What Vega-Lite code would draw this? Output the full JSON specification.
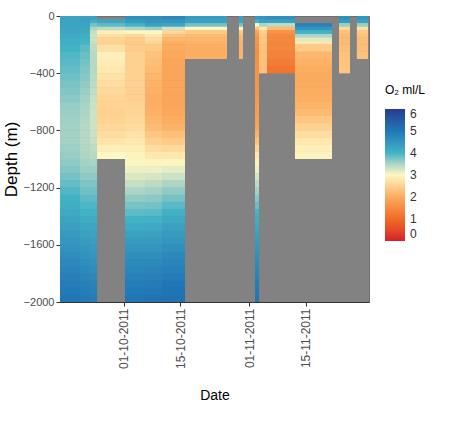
{
  "$schema": "https://vega.github.io/schema/vega-lite/v6.json",
  "width": 309,
  "height": 286,
  "padding": {"left": 2, "top": 10, "right": 5, "bottom": 5},
  "background": "white",
  "data": {
    "values": [
      {"t0": "2011-09-15T06:30:00Z", "t1": "2011-09-20T05:00:00Z",
       "top": [0,-25,-50,-75,-100,-125,-150,-175,-200,-250,-300,-350,-400,-450,-500,-550,-600,-650,-700,-750,-800,-850,-900,-950,-1000,-1050,-1100,-1150,-1200,-1250,-1300,-1350,-1400,-1450,-1500,-1550,-1600,-1650,-1700,-1750,-1800,-1850,-1900,-1950],
       "bot": [-25,-50,-75,-100,-125,-150,-175,-200,-250,-300,-350,-400,-450,-500,-550,-600,-650,-700,-750,-800,-850,-900,-950,-1000,-1050,-1100,-1150,-1200,-1250,-1300,-1350,-1400,-1450,-1500,-1550,-1600,-1650,-1700,-1750,-1800,-1850,-1900,-1950,-2000],
       "o2": [4.25,4.25,4.25,4.2,4.2,4.15,4.1,4.1,4.0,3.95,3.92,3.88,3.83,3.78,3.73,3.68,3.63,3.6,3.57,3.55,3.55,3.56,3.58,3.62,3.67,3.73,3.8,3.88,3.95,4.03,4.1,4.18,4.25,4.33,4.4,4.48,4.55,4.63,4.7,4.78,4.85,4.9,4.95,5.0]},
      {"t0": "2011-09-20T05:00:00Z", "t1": "2011-09-22T16:00:00Z",
       "top": [0,-25,-50,-75,-100,-125,-150,-175,-200,-250,-300,-350,-400,-450,-500,-550,-600,-650,-700,-750,-800,-850,-900,-950,-1000,-1050,-1100,-1150,-1200,-1250,-1300,-1350,-1400,-1450,-1500,-1550,-1600,-1650,-1700,-1750,-1800,-1850,-1900,-1950],
       "bot": [-25,-50,-75,-100,-125,-150,-175,-200,-250,-300,-350,-400,-450,-500,-550,-600,-650,-700,-750,-800,-850,-900,-950,-1000,-1050,-1100,-1150,-1200,-1250,-1300,-1350,-1400,-1450,-1500,-1550,-1600,-1650,-1700,-1750,-1800,-1850,-1900,-1950,-2000],
       "o2": [4.3,4.3,4.25,4.2,4.15,4.1,4.05,4.0,3.9,3.85,3.8,3.75,3.7,3.65,3.6,3.56,3.52,3.5,3.47,3.45,3.45,3.45,3.47,3.5,3.55,3.6,3.67,3.75,3.82,3.9,3.97,4.05,4.12,4.2,4.3,4.38,4.47,4.55,4.63,4.7,4.78,4.85,4.9,4.95]},
      {"t0": "2011-09-22T16:00:00Z", "t1": "2011-09-24T10:00:00Z",
       "top": [0,-25,-50,-75,-100,-125,-150,-175,-200,-250,-300,-350,-400,-450,-500,-550,-600,-650,-700,-750,-800,-850,-900,-950,-1000,-1050,-1100,-1150,-1200,-1250,-1300,-1350,-1400,-1450,-1500,-1550,-1600,-1650,-1700,-1750,-1800,-1850,-1900,-1950],
       "bot": [-25,-50,-75,-100,-125,-150,-175,-200,-250,-300,-350,-400,-450,-500,-550,-600,-650,-700,-750,-800,-850,-900,-950,-1000,-1050,-1100,-1150,-1200,-1250,-1300,-1350,-1400,-1450,-1500,-1550,-1600,-1650,-1700,-1750,-1800,-1850,-1900,-1950,-2000],
       "o2": [4.3,4.1,3.8,3.5,3.35,3.3,3.32,3.35,3.4,3.45,3.45,3.45,3.42,3.4,3.38,3.35,3.33,3.3,3.3,3.3,3.32,3.35,3.4,3.45,3.52,3.6,3.67,3.75,3.82,3.9,3.97,4.05,4.12,4.2,4.28,4.35,4.43,4.5,4.58,4.65,4.72,4.8,4.85,4.9]},
      {"t0": "2011-09-24T10:00:00Z", "t1": "2011-10-01T08:00:00Z",
       "top": [0,-25,-50,-75,-100,-125,-150,-175,-200,-250,-300,-350,-400,-450,-500,-550,-600,-650,-700,-750,-800,-850,-900,-950],
       "bot": [-25,-50,-75,-100,-125,-150,-175,-200,-250,-300,-350,-400,-450,-500,-550,-600,-650,-700,-750,-800,-850,-900,-950,-1000],
       "o2": [null,4.2,3.9,3.4,2.9,2.7,2.55,2.5,2.7,2.9,2.85,2.8,2.72,2.65,2.6,2.55,2.52,2.5,2.52,2.58,2.65,2.75,2.88,3.0]},
      {"t0": "2011-10-01T08:00:00Z", "t1": "2011-10-06T06:00:00Z",
       "top": [0,-25,-50,-75,-100,-125,-150,-175,-200,-250,-300,-350,-400,-450,-500,-550,-600,-650,-700,-750,-800,-850,-900,-950,-1000,-1050,-1100,-1150,-1200,-1250,-1300,-1350,-1400,-1450,-1500,-1550,-1600,-1650,-1700,-1750,-1800,-1850,-1900,-1950],
       "bot": [-25,-50,-75,-100,-125,-150,-175,-200,-250,-300,-350,-400,-450,-500,-550,-600,-650,-700,-750,-800,-850,-900,-950,-1000,-1050,-1100,-1150,-1200,-1250,-1300,-1350,-1400,-1450,-1500,-1550,-1600,-1650,-1700,-1750,-1800,-1850,-1900,-1950,-2000],
       "o2": [4.6,4.4,4.0,3.5,3.0,2.6,2.45,2.4,2.45,2.5,2.5,2.5,2.5,2.5,2.5,2.5,2.52,2.55,2.6,2.65,2.72,2.8,2.88,2.95,3.02,3.1,3.22,3.35,3.5,3.65,3.78,3.9,4.02,4.15,4.28,4.4,4.5,4.6,4.68,4.75,4.82,4.9,4.95,5.0]},
      {"t0": "2011-10-06T06:00:00Z", "t1": "2011-10-10T11:00:00Z",
       "top": [0,-25,-50,-75,-100,-125,-150,-175,-200,-250,-300,-350,-400,-450,-500,-550,-600,-650,-700,-750,-800,-850,-900,-950,-1000,-1050,-1100,-1150,-1200,-1250,-1300,-1350,-1400,-1450,-1500,-1550,-1600,-1650,-1700,-1750,-1800,-1850,-1900,-1950],
       "bot": [-25,-50,-75,-100,-125,-150,-175,-200,-250,-300,-350,-400,-450,-500,-550,-600,-650,-700,-750,-800,-850,-900,-950,-1000,-1050,-1100,-1150,-1200,-1250,-1300,-1350,-1400,-1450,-1500,-1550,-1600,-1650,-1700,-1750,-1800,-1850,-1900,-1950,-2000],
       "o2": [4.6,4.5,4.3,3.6,3.0,2.8,2.65,2.55,2.4,2.3,2.25,2.2,2.15,2.1,2.08,2.05,2.05,2.08,2.15,2.22,2.35,2.5,2.65,2.8,2.95,3.1,3.25,3.4,3.55,3.68,3.8,3.92,4.05,4.18,4.3,4.4,4.5,4.6,4.7,4.78,4.85,4.92,4.98,5.05]},
      {"t0": "2011-10-10T11:00:00Z", "t1": "2011-10-16T03:00:00Z",
       "top": [0,-25,-50,-75,-100,-125,-150,-175,-200,-250,-300,-350,-400,-450,-500,-550,-600,-650,-700,-750,-800,-850,-900,-950,-1000,-1050,-1100,-1150,-1200,-1250,-1300,-1350,-1400,-1450,-1500,-1550,-1600,-1650,-1700,-1750,-1800,-1850,-1900,-1950],
       "bot": [-25,-50,-75,-100,-125,-150,-175,-200,-250,-300,-350,-400,-450,-500,-550,-600,-650,-700,-750,-800,-850,-900,-950,-1000,-1050,-1100,-1150,-1200,-1250,-1300,-1350,-1400,-1450,-1500,-1550,-1600,-1650,-1700,-1750,-1800,-1850,-1900,-1950,-2000],
       "o2": [4.7,4.5,4.2,3.3,2.6,2.3,2.15,2.05,2.0,1.95,1.92,1.9,1.9,1.9,1.9,1.9,1.92,1.95,2.02,2.1,2.25,2.4,2.6,2.8,2.98,3.15,3.32,3.5,3.65,3.8,3.92,4.05,4.18,4.3,4.4,4.5,4.6,4.7,4.78,4.85,4.92,5.0,5.05,5.1]},
      {"t0": "2011-10-16T03:00:00Z", "t1": "2011-10-26T12:00:00Z",
       "top": [0,-25,-50,-75,-100,-125,-150,-175,-200,-250],
       "bot": [-25,-50,-75,-100,-125,-150,-175,-200,-250,-300],
       "o2": [4.4,4.3,3.8,3.0,2.4,2.2,2.15,2.1,2.05,2.05]},
      {"t0": "2011-10-29T11:00:00Z", "t1": "2011-10-30T11:00:00Z",
       "top": [0,-25,-50,-75,-100,-125,-150,-175,-200,-250],
       "bot": [-25,-50,-75,-100,-125,-150,-175,-200,-250,-300],
       "o2": [4.3,4.2,3.8,3.0,2.4,2.2,2.15,2.1,2.1,2.1]},
      {"t0": "2011-11-02T10:00:00Z", "t1": "2011-11-03T10:00:00Z",
       "top": [0,-25,-50,-75,-100,-125,-150,-175,-200,-250,-300,-350,-400,-450,-500,-550,-600,-650,-700,-750,-800,-850,-900,-950,-1000,-1050,-1100,-1150,-1200,-1250,-1300,-1350,-1400,-1450,-1500,-1550,-1600,-1650,-1700,-1750,-1800,-1850,-1900,-1950],
       "bot": [-25,-50,-75,-100,-125,-150,-175,-200,-250,-300,-350,-400,-450,-500,-550,-600,-650,-700,-750,-800,-850,-900,-950,-1000,-1050,-1100,-1150,-1200,-1250,-1300,-1350,-1400,-1450,-1500,-1550,-1600,-1650,-1700,-1750,-1800,-1850,-1900,-1950,-2000],
       "o2": [4.4,4.0,3.0,2.3,1.9,1.7,1.65,1.6,1.55,1.55,1.58,1.6,1.62,1.65,1.68,1.7,1.72,1.75,1.82,1.9,2.1,2.3,2.55,2.8,2.95,3.1,3.25,3.4,3.55,3.7,3.85,4.0,4.1,4.2,4.3,4.4,4.5,4.6,4.68,4.75,4.82,4.9,4.95,5.0]},
      {"t0": "2011-11-03T10:00:00Z", "t1": "2011-11-05T09:00:00Z",
       "top": [0,-25,-50,-75,-100,-125,-150,-175,-200,-250,-300,-350],
       "bot": [-25,-50,-75,-100,-125,-150,-175,-200,-250,-300,-350,-400],
       "o2": [4.5,4.3,3.5,2.8,2.5,2.4,2.38,2.35,2.3,2.3,2.3,2.3]},
      {"t0": "2011-11-05T09:00:00Z", "t1": "2011-11-12T07:00:00Z",
       "top": [0,-25,-50,-75,-100,-125,-150,-175,-200,-250,-300,-350],
       "bot": [-25,-50,-75,-100,-125,-150,-175,-200,-250,-300,-350,-400],
       "o2": [4.6,4.3,3.4,2.2,1.6,1.45,1.42,1.4,1.4,1.35,1.25,1.15]},
      {"t0": "2011-11-12T07:00:00Z", "t1": "2011-11-21T10:00:00Z",
       "top": [0,-25,-50,-75,-100,-125,-150,-175,-200,-250,-300,-350,-400,-450,-500,-550,-600,-650,-700,-750,-800,-850,-900,-950],
       "bot": [-25,-50,-75,-100,-125,-150,-175,-200,-250,-300,-350,-400,-450,-500,-550,-600,-650,-700,-750,-800,-850,-900,-950,-1000],
       "o2": [null,null,4.8,4.5,4.0,3.5,3.2,2.8,2.4,2.15,2.08,2.02,2.0,2.0,2.02,2.05,2.12,2.2,2.35,2.5,2.65,2.8,2.9,2.95]},
      {"t0": "2011-11-23T04:00:00Z", "t1": "2011-11-25T21:00:00Z",
       "top": [0,-25,-50,-75,-100,-125,-150,-175,-200,-250,-300,-350],
       "bot": [-25,-50,-75,-100,-125,-150,-175,-200,-250,-300,-350,-400],
       "o2": [4.6,4.4,3.6,2.6,2.3,2.2,2.2,2.2,2.25,2.3,2.32,2.35]},
      {"t0": "2011-11-27T14:00:00Z", "t1": "2011-11-30T08:00:00Z",
       "top": [0,-25,-50,-75,-100,-125,-150,-175,-200,-250],
       "bot": [-25,-50,-75,-100,-125,-150,-175,-200,-250,-300],
       "o2": [4.5,4.3,3.6,2.7,2.4,2.3,2.25,2.25,2.25,2.3]}
    ]
  },
  "transform": [
    {"flatten": ["top", "bot", "o2"]},
    {"filter": "isValid(datum.o2)"}
  ],
  "encoding": {
    "x": {
      "field": "t0", "type": "temporal",
      "scale": {"type": "utc", "domain": [
        {"year": 2011, "month": 9, "date": 15, "hours": 6, "minutes": 30, "utc": true},
        {"year": 2011, "month": 11, "date": 30, "hours": 13, "minutes": 40, "utc": true}
      ]},
      "axis": {
        "title": "Date",
        "values": [
          {"year": 2011, "month": 10, "date": 1, "utc": true},
          {"year": 2011, "month": 10, "date": 15, "utc": true},
          {"year": 2011, "month": 11, "date": 1, "utc": true},
          {"year": 2011, "month": 11, "date": 15, "utc": true}
        ],
        "format": "%d-%m-%Y",
        "labelAngle": 270,
        "labelFontSize": 12,
        "titleFontSize": 14,
        "titleFontWeight": "normal",
        "titlePadding": 20
      }
    },
    "x2": {"field": "t1"},
    "y": {
      "field": "top", "type": "quantitative",
      "scale": {"domain": [-2000, 0], "nice": false, "zero": false},
      "axis": {
        "title": "Depth (m)",
        "values": [0, -400, -800, -1200, -1600, -2000],
        "format": "d",
        "labelFontSize": 11,
        "titleFontSize": 17,
        "titleFontWeight": "normal",
        "titlePadding": 3
      }
    },
    "y2": {"field": "bot"},
    "color": {
      "field": "o2", "type": "quantitative",
      "scale": {
        "type": "linear",
        "domain": [0, 1, 2, 3, 4, 5, 6],
        "range": ["#d42027", "#f06b26", "#fbab5e", "#fdf7c3", "#42b4c6", "#1f77b7", "#263c8f"],
        "interpolate": "lab"
      },
      "legend": {
        "type": "gradient",
        "title": "O₂ ml/L",
        "orient": "none",
        "legendX": 325,
        "legendY": 69,
        "direction": "vertical",
        "gradientLength": 132,
        "gradientThickness": 20,
        "tickCount": 6,
        "labelFontSize": 12,
        "labelColor": "#333",
        "labelOffset": 5,
        "labelOverlap": false,
        "titleFontSize": 12,
        "titleFontWeight": "normal",
        "titleColor": "#000",
        "titlePadding": 12
      }
    }
  },
  "layer": [
    {"mark": {"type": "rect"}},
    {"mark": {"type": "rect"}}
  ],
  "config": {
    "font": "Liberation Sans",
    "view": {"fill": "#828282", "stroke": "#6f6f6f", "strokeWidth": 1},
    "axis": {
      "grid": false,
      "labelColor": "#4d4d4d",
      "titleColor": "#000",
      "domainColor": "#333",
      "tickColor": "#333",
      "tickSize": 4
    }
  }
}
